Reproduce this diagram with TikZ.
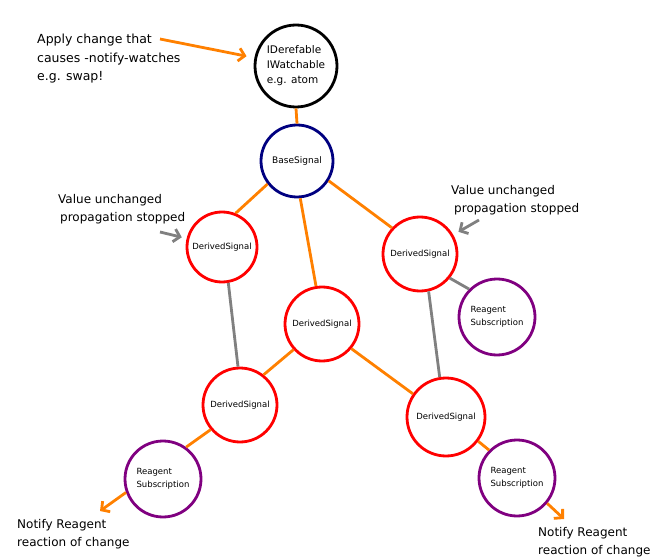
\documentclass[tikz,border=0pt]{standalone}
\usepackage{fontspec}
\setmainfont{DejaVu Sans}
\usetikzlibrary{arrows.meta}
\definecolor{corange}{RGB}{255,128,0}
\definecolor{cred}{RGB}{255,0,0}
\definecolor{cnavy}{RGB}{0,0,128}
\definecolor{cpurple}{RGB}{128,0,128}
\definecolor{cgray}{RGB}{128,128,128}
\tikzset{
  ring/.style={circle, draw, line width=2.8pt, inner sep=0pt, align=left},
  blackring/.style={ring, draw=black, font={\fontsize{10.5}{15}\selectfont}},
  navyring/.style={ring, draw=cnavy, font={\fontsize{9}{11}\selectfont}},
  redring/.style={ring, draw=cred, font={\fontsize{8.5}{11}\selectfont}},
  purplering/.style={ring, draw=cpurple, font={\fontsize{8.5}{13}\selectfont}},
  olink/.style={draw=corange, line width=2.8pt},
  glink/.style={draw=cgray, line width=2.8pt},
  barb/.style={-{Straight Barb[length=6pt,width=13pt]}},
  note/.style={inner sep=0pt, align=left, anchor=north west, font={\fontsize{12}{18.5}\selectfont}},
}
\begin{document}
\begin{tikzpicture}[x=1pt,y=-1pt]
\useasboundingbox (0,0) rectangle (654,559);
% nodes
\node[blackring, minimum size=82] (top) at (296,66) {IDerefable\\IWatchable\\e.g. atom};
\node[navyring, minimum size=72] (base) at (297,161) {BaseSignal};
\node[redring, minimum size=70] (ds1) at (222,247) {DerivedSignal};
\node[redring, minimum size=74] (ds2) at (420,254) {DerivedSignal};
\node[purplering, minimum size=76] (rs1) at (497,317) {Reagent\\Subscription};
\node[redring, minimum size=74] (ds3) at (322,324) {DerivedSignal};
\node[redring, minimum size=74] (ds4) at (240,405) {DerivedSignal};
\node[redring, minimum size=78] (ds5) at (446,417) {DerivedSignal};
\node[purplering, minimum size=76] (rs2) at (163,479) {Reagent\\Subscription};
\node[purplering, minimum size=76] (rs3) at (517,478) {Reagent\\Subscription};
% texts
\node[note, font={\fontsize{12.5}{18.5}\selectfont}] (apply) at (37,34) {Apply change that\\causes -notify-watches\\e.g. swap!};
\node[note] (vu1) at (58,194) {Value unchanged\\\hspace*{2pt}propagation stopped};
\node[note] (vu2) at (451,185) {Value unchanged\\\hspace*{3pt}propagation stopped};
\node[note] (nr1) at (17,519) {Notify Reagent\\reaction of change};
\node[note] (nr2) at (538,527) {Notify Reagent\\reaction of change};
% free ends
\coordinate (a1) at (160,39);
\coordinate (g1) at (160,232);
\coordinate (g2) at (479,220);
\coordinate (n1) at (100,511);
\coordinate (n2) at (564,519);
% links
\draw[olink] (top.-90) -- (base.90);
\draw[olink] (base.218) -- (ds1.68);
\draw[olink] (base.-85) -- (ds3.99);
\draw[olink] (base.-32) -- (ds2.137);
\draw[glink] (ds1.-80) -- (ds4.93);
\draw[olink] (ds3.222) -- (ds4.52);
\draw[olink] (ds3.-40) -- (ds5.145);
\draw[glink] (ds2.-77) -- (ds5.99);
\draw[glink] (ds2.-39) -- (rs1.135);
\draw[olink] (ds4.220) -- (rs2.54);
\draw[olink] (ds5.-37) -- (rs3.135);
% arrows
\draw[olink, barb, shorten >=8pt] (a1) -- (top);
\draw[glink, barb, shorten >=5pt] (g1) -- (ds1);
\draw[glink, barb, shorten >=6pt] (g2) -- (ds2);
\draw[olink, barb] (rs2.200) -- (n1);
\draw[olink, barb] (rs3.-40) -- (n2);
\end{tikzpicture}
\end{document}
